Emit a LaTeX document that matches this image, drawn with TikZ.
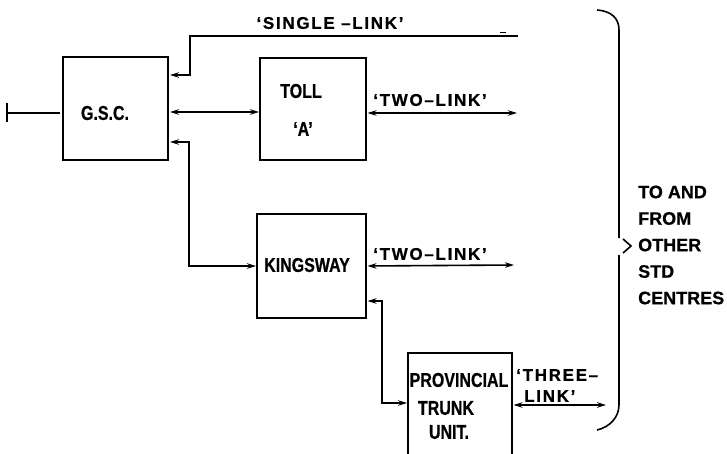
\documentclass[tikz,border=0pt]{standalone}
\usepackage{fontspec}
\setmainfont{Liberation Sans}
\newfontfamily\boxfont[FakeStretch=0.8, FakeBold=0.6]{Liberation Sans}
\newfontfamily\linkfont[LetterSpace=10, FakeBold=0.6]{Liberation Sans}
\newfontfamily\sidefont[FakeBold=0.6]{Liberation Sans}
\usetikzlibrary{arrows.meta}
\begin{document}
\begin{tikzpicture}[x=1pt,y=-1pt,
  box/.style={draw, line width=1.7pt, inner sep=0pt, outer sep=0pt},
  boxtxt/.style={font=\boxfont\bfseries\fontsize{20}{22}\selectfont, inner sep=0pt},
  linktxt/.style={font=\linkfont\bfseries\fontsize{17}{19}\selectfont, inner sep=0pt},
  sidetxt/.style={font=\sidefont\bfseries\fontsize{18}{26.5}\selectfont, inner sep=0pt, align=left},
  conn/.style={line width=1.6pt},
  arr/.style={conn, -{Stealth[length=9pt,width=5.5pt]}},
  darr/.style={conn, {Stealth[length=9pt,width=5.5pt]}-{Stealth[length=9pt,width=5.5pt]}}]
\clip (0,0) rectangle (727,454);
% boxes
\node[box, minimum width=105pt, minimum height=103pt] (gsc) at (115.5,108.5) {};
\node[box, minimum width=106pt, minimum height=102pt] (toll) at (313,109) {};
\node[box, minimum width=109pt, minimum height=104pt] (king) at (311.5,266) {};
\node[box, minimum width=104pt, minimum height=127pt] (prov) at (460,416.5) {};
% box texts
\node[boxtxt] (gsct) at (105,113) {G.S.C.};
\node[boxtxt] (tollt) at (301,91) {TOLL};
\node[boxtxt] (tolla) at (303,129) {‘A’};
\node[boxtxt] (kingt) at (307,265) {KINGSWAY};
\node[boxtxt] (provt) at (459,380) {PROVINCIAL};
\node[boxtxt] (trunkt) at (446,408) {TRUNK};
\node[boxtxt] (unitt) at (449,432) {UNIT.};
% link labels
\node[linktxt] (slt) at (330,23) {‘SINGLE –LINK’};
\node[linktxt] (tl1) at (430,100) {‘TWO–LINK’};
\node[linktxt] (tl2) at (430,254) {‘TWO–LINK’};
\node[linktxt, anchor=west] (thr1) at (516,375) {‘THREE–};
\node[linktxt, anchor=west] (thr2) at (524,396) {LINK’};
\node[sidetxt, anchor=west] (side) at (638,245) {TO AND\\FROM\\OTHER\\STD\\CENTRES};
% free ends and bends
\coordinate (tbar) at (7,113);
\coordinate (slend) at (518,36);
\coordinate (slcorner) at (190,36);
\coordinate (kv) at (189,142);
\coordinate (t2end) at (517,113);
\coordinate (k2end) at (514,265);
\coordinate (pv) at (382,301);
\coordinate (t3end) at (606,405);
% connectors
\draw[conn, shorten >=3pt] (tbar) -- ([yshift=-4.5pt]gsc.west);
\draw[conn] ([yshift=9.5pt]tbar) -- ([yshift=-9.5pt]tbar);
\draw[arr, shorten >=2pt] (slend) -- (slcorner) |- ([yshift=-18pt]gsc.north east);
\draw[line width=1pt] (500,32.5) -- (506,32.5);
\draw[darr, shorten <=2pt, shorten >=1pt] ([yshift=-3.5pt]gsc.east) -- ([yshift=-3pt]toll.west);
\draw[darr, shorten <=2pt, shorten >=1pt] ([yshift=18pt]gsc.south east) -- (kv) |- (king.west);
\draw[darr, shorten <=1.5pt] ([yshift=-4pt]toll.east) -- (t2end);
\draw[darr, shorten <=1.5pt] (king.east) -- (k2end);
\draw[darr, shorten <=1.5pt, shorten >=1pt] ([yshift=-35pt]king.east) -- (pv) |- ([yshift=13.5pt]prov.west);
\draw[darr, shorten <=1.5pt] ([yshift=11.5pt]prov.east) -- (t3end);
% brace
\draw[conn] (597,10) .. controls (611,11) and (619,18) .. (619,30) -- (619,238);
\draw[conn] (623,239) -- (631,246) -- (623,253);
\draw[conn] (619,255) -- (619,405) .. controls (619,417) and (610,427) .. (597,430);
\end{tikzpicture}
\end{document}
